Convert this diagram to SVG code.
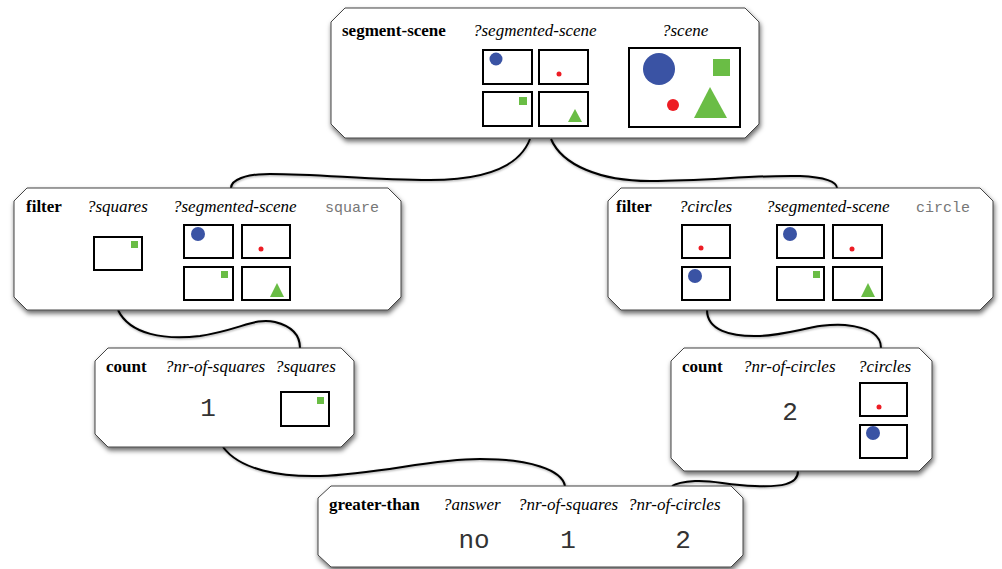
<svg xmlns="http://www.w3.org/2000/svg" width="1002" height="569" viewBox="0 0 1002 569">
<defs>
<filter id="sh" x="-5%" y="-10%" width="112%" height="130%">
<feDropShadow dx="1" dy="3" stdDeviation="2.5" flood-color="#000" flood-opacity="0.6"/>
</filter>
<filter id="lsh" x="-5%" y="-20%" width="110%" height="150%">
<feDropShadow dx="0.5" dy="1" stdDeviation="0.8" flood-color="#000" flood-opacity="0.35"/>
</filter>
</defs>
<style>
.node{fill:#fff;stroke:#444;stroke-width:1;filter:url(#sh)}
.op{font-family:"Liberation Serif",serif;font-weight:bold;font-size:17px;fill:#000}
.var{font-family:"Liberation Serif",serif;font-style:italic;font-size:17px;fill:#000}
.sym{font-family:"Liberation Mono",monospace;font-size:15px;fill:#777}
.val{font-family:"Liberation Mono",monospace;font-size:26px;fill:#333;text-anchor:middle}
.fr{fill:#fff;stroke:#000;stroke-width:2}
.b{fill:#3a53a4}
.r{fill:#ed1c24}
.g{fill:#6abd45}
.con{fill:none;stroke:#000;stroke-width:2;filter:url(#lsh)}
</style>
<g id="connectors">
<path class="con" d="M530,139 C520,165 490,180 430,180 C370,180 320,174 270,174 C245,174 231,180 231,188"/>
<path class="con" d="M551,139 C562,165 600,181 650,181 C710,181 750,175 800,176 C825,177 837,182 837,188"/>
<path class="con" d="M118,310 C130,335 165,340 200,336 C240,330 255,317 275,322 C295,327 300,338 300,348"/>
<path class="con" d="M707,310 C707,330 730,337 760,336 C795,334 815,323 845,325 C875,328 881,338 881,348"/>
<path class="con" d="M223,447 C240,470 280,477 320,476 C380,474 430,459 480,459 C530,459 562,470 565,486"/>
<path class="con" d="M798,471 C798,485 780,487 755,486 C725,485 715,480 695,481 C682,482 675,484 672,486"/>
</g>
<g id="segment-scene">
<path class="node" d="M345,8 H745 L759,22 V124 L745,138 H345 L331,124 V22 Z"/>
<text class="op" x="342" y="36">segment-scene</text>
<text class="var" x="473" y="36">?segmented-scene</text>
<text class="var" x="662" y="36">?scene</text>
<rect class="fr" x="483" y="50" width="49" height="34"/>
<rect class="fr" x="539" y="50" width="49" height="34"/>
<rect class="fr" x="483" y="92" width="49" height="34"/>
<rect class="fr" x="539" y="92" width="49" height="34"/>
<circle class="b" cx="496" cy="59" r="6.5"/>
<circle class="r" cx="559" cy="74" r="2.5"/>
<rect class="g" x="519" y="97" width="8" height="8"/>
<polygon class="g" points="575,109 582,122 568,122"/>
<rect class="fr" x="629" y="48" width="111" height="79"/>
<circle class="b" cx="659" cy="69" r="16"/>
<rect class="g" x="713" y="59" width="17" height="17"/>
<circle class="r" cx="673" cy="105" r="6"/>
<polygon class="g" points="710,87 727,118 694,118"/>
</g>
<g id="filter-squares">
<path class="node" d="M27,188 H388 L401,201 V297 L388,310 H27 L14,297 V201 Z"/>
<text class="op" x="26" y="212">filter</text>
<text class="var" x="87" y="212">?squares</text>
<text class="var" x="173" y="212">?segmented-scene</text>
<text class="sym" x="325" y="212">square</text>
<rect class="fr" x="94" y="237" width="48" height="33"/>
<rect class="g" x="131" y="241" width="7" height="7"/>
<rect class="fr" x="184" y="225" width="49" height="33"/>
<rect class="fr" x="242" y="225" width="48" height="33"/>
<rect class="fr" x="184" y="267" width="49" height="33"/>
<rect class="fr" x="242" y="267" width="48" height="33"/>
<circle class="b" cx="198" cy="234" r="7"/>
<circle class="r" cx="261" cy="249" r="2.5"/>
<rect class="g" x="221" y="271" width="7" height="7"/>
<polygon class="g" points="277,283 284,297 270,297"/>
</g>
<g id="filter-circles">
<path class="node" d="M621,188 H980 L993,201 V297 L980,310 H621 L608,297 V201 Z"/>
<text class="op" x="616" y="212">filter</text>
<text class="var" x="679" y="212">?circles</text>
<text class="var" x="766" y="212">?segmented-scene</text>
<text class="sym" x="916" y="212">circle</text>
<rect class="fr" x="682" y="225" width="48" height="33"/>
<rect class="fr" x="682" y="267" width="48" height="33"/>
<circle class="r" cx="701" cy="248" r="2.5"/>
<circle class="b" cx="695" cy="276" r="7"/>
<rect class="fr" x="777" y="225" width="47" height="33"/>
<rect class="fr" x="833" y="225" width="49" height="33"/>
<rect class="fr" x="777" y="267" width="47" height="33"/>
<rect class="fr" x="833" y="267" width="49" height="33"/>
<circle class="b" cx="790" cy="234" r="7"/>
<circle class="r" cx="852" cy="249" r="2.5"/>
<rect class="g" x="813" y="271" width="7" height="7"/>
<polygon class="g" points="868,283 875,297 861,297"/>
</g>
<g id="count-squares">
<path class="node" d="M108,348 H341 L354,361 V434 L341,447 H108 L95,434 V361 Z"/>
<text class="op" x="106" y="372">count</text>
<text class="var" x="165" y="372">?nr-of-squares</text>
<text class="var" x="275" y="372">?squares</text>
<text class="val" x="208" y="416">1</text>
<rect class="fr" x="281" y="392" width="48" height="34"/>
<rect class="g" x="317" y="397" width="7" height="7"/>
</g>
<g id="count-circles">
<path class="node" d="M684,348 H919 L932,361 V458 L919,471 H684 L671,458 V361 Z"/>
<text class="op" x="682" y="372">count</text>
<text class="var" x="743" y="372">?nr-of-circles</text>
<text class="var" x="858" y="372">?circles</text>
<text class="val" x="790" y="420">2</text>
<rect class="fr" x="860" y="383" width="47" height="33"/>
<rect class="fr" x="860" y="425" width="47" height="33"/>
<circle class="r" cx="879" cy="407" r="2.5"/>
<circle class="b" cx="873" cy="433" r="7"/>
</g>
<g id="greater-than">
<path class="node" d="M331,486 H731 L743,498 V555 L731,567 H331 L318,555 V498 Z"/>
<text class="op" x="329" y="510">greater-than</text>
<text class="var" x="443" y="510">?answer</text>
<text class="var" x="518" y="510">?nr-of-squares</text>
<text class="var" x="628" y="510">?nr-of-circles</text>
<text class="val" x="474" y="548">no</text>
<text class="val" x="568" y="548">1</text>
<text class="val" x="683" y="548">2</text>
</g>
</svg>
